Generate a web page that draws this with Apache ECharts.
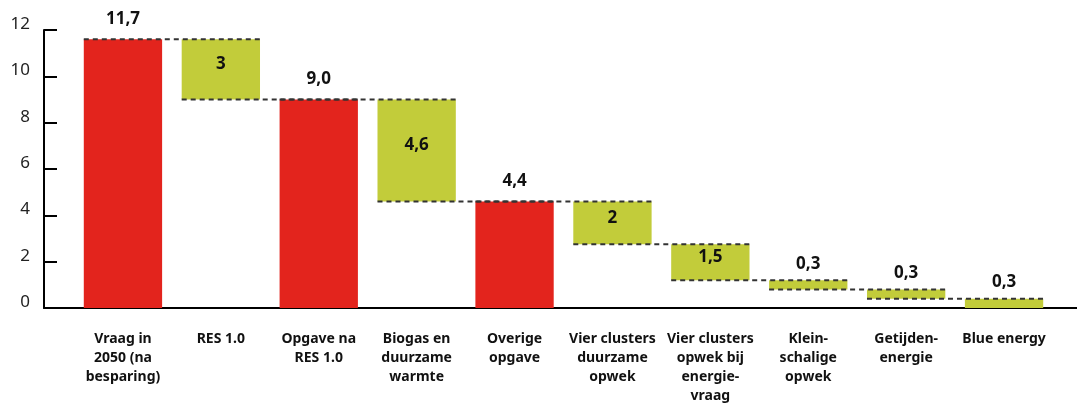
<!DOCTYPE html>
<html>
<head>
    <meta charset="utf-8">
    <title>Opgave waterval</title>
    <style>
        body { margin: 0; padding: 0; background: #fff; }
        #chart { width: 1077px; height: 406px; }
    </style>
</head>
<body>
    <div id="chart"></div>
    <script src="https://cdn.jsdelivr.net/npm/echarts@6/dist/echarts.min.js"></script>
    <script>
        // categories (line breaks as in the original)
        const categories = [
            'Vraag in\n2050 (na\nbesparing)',
            'RES 1.0',
            'Opgave na\nRES 1.0',
            'Biogas en\nduurzame\nwarmte',
            'Overige\nopgave',
            'Vier clusters\nduurzame\nopwek',
            'Vier clusters\nopwek bij\nenergie-\nvraag',
            'Klein-\nschalige\nopwek',
            'Getijden-\nenergie',
            'Blue energy'
        ];
        // bar bottoms and tops as drawn
        const lows  = [0, 9.0, 0, 4.6, 0, 2.75, 1.2, 0.8, 0.4, 0];
        const highs = [11.6, 11.6, 9.0, 9.0, 4.6, 4.6, 2.75, 1.2, 0.8, 0.4];
        // 'total' = red column, 'step' = green floating block
        const kinds = ['total', 'step', 'total', 'step', 'total', 'step', 'step', 'step', 'step', 'step'];
        // value labels as printed
        const labels = ['11,7', '3', '9,0', '4,6', '4,4', '2', '1,5', '0,3', '0,3', '0,3'];
        const yTicks = [0, 2, 4, 6, 8, 10, 12];

        const RED = '#E3241D';
        const GREEN = '#C2CC3A';
        const FONT = 'Noto Sans';

        const chart = echarts.init(document.getElementById('chart'));

        const barData = categories.map((c, i) => {
            const h = highs[i] - lows[i];
            const isTotal = kinds[i] === 'total';
            let label;
            if (isTotal) {
                label = { position: 'top', distance: 12 };
            } else if (h < 1) {
                label = { position: 'top', distance: 8 };
            } else {
                label = { position: 'inside', offset: [0, -5] };
            }
            return {
                value: h,
                itemStyle: { color: isTotal ? RED : GREEN },
                label: label
            };
        });

        // dashed connectors: level where bar i ends and bar i+1 starts
        const connectors = [];
        for (let i = 0; i < categories.length - 1; i++) {
            const level = kinds[i] === 'total' ? highs[i] : lows[i];
            connectors.push([i, level]);
        }

        const yMin = yTicks[0];
        const yMax = yTicks[yTicks.length - 1];
        const yStep = yTicks[1] - yTicks[0];

        const option = {
            animation: false,
            textStyle: { fontFamily: FONT },
            grid: [
                { left: 74, right: 24, top: 30, bottom: 98 },
                { left: 44, right: 0, top: 30, bottom: 98 }
            ],
            xAxis: [
                {
                    type: 'category',
                    data: categories,
                    gridIndex: 0,
                    axisLine: { show: false },
                    axisTick: { show: false },
                    axisLabel: {
                        interval: 0,
                        margin: 22,
                        fontSize: 14,
                        fontWeight: 'bold',
                        lineHeight: 19,
                        color: '#111',
                        fontFamily: FONT
                    }
                },
                {
                    // long baseline + vertical axis line (first split line only)
                    type: 'value',
                    gridIndex: 1,
                    min: 0,
                    max: 1,
                    interval: 1,
                    axisLine: { show: true, onZero: false, lineStyle: { color: '#000', width: 2 } },
                    axisTick: { show: false },
                    axisLabel: { show: false },
                    splitLine: { show: true, lineStyle: { color: ['#000', 'transparent'], width: 2 } }
                }
            ],
            yAxis: [
                {
                    type: 'value',
                    gridIndex: 0,
                    min: yMin,
                    max: yMax,
                    interval: yStep,
                    show: false
                },
                {
                    type: 'value',
                    gridIndex: 1,
                    min: yMin,
                    max: yMax,
                    interval: yStep,
                    axisLine: { show: true, onZero: false, lineStyle: { color: '#000', width: 2 } },
                    axisTick: { show: true, inside: true, length: 13, lineStyle: { color: '#000', width: 2 } },
                    axisLabel: {
                        margin: 14,
                        fontSize: 17,
                        color: '#222',
                        fontFamily: FONT,
                        verticalAlign: 'bottom',
                        lineHeight: 12
                    },
                    splitLine: { show: false }
                }
            ],
            series: [
                {
                    name: 'base',
                    type: 'bar',
                    stack: 'w',
                    xAxisIndex: 0,
                    yAxisIndex: 0,
                    barWidth: '80%',
                    itemStyle: { color: 'transparent' },
                    emphasis: { disabled: true },
                    data: lows
                },
                {
                    name: 'waarde',
                    type: 'bar',
                    stack: 'w',
                    xAxisIndex: 0,
                    yAxisIndex: 0,
                    barWidth: '80%',
                    label: {
                        show: true,
                        fontSize: 17,
                        fontWeight: 'bold',
                        color: '#111',
                        fontFamily: FONT,
                        formatter: (p) => labels[p.dataIndex]
                    },
                    data: barData
                },
                {
                    name: 'verbinding',
                    type: 'custom',
                    xAxisIndex: 0,
                    yAxisIndex: 0,
                    z: 10,
                    silent: true,
                    renderItem: function (params, api) {
                        const i = api.value(0);
                        const level = api.value(1);
                        const a = api.coord([i, level]);
                        const b = api.coord([i + 1, level]);
                        const half = api.size([1, 0])[0] * 0.4;
                        return {
                            type: 'line',
                            shape: { x1: a[0] - half, y1: a[1], x2: b[0] + half, y2: b[1] },
                            style: { stroke: '#333', lineWidth: 2, lineDash: [5, 4] }
                        };
                    },
                    data: connectors
                }
            ]
        };

        chart.setOption(option);
    </script>
</body>
</html>
